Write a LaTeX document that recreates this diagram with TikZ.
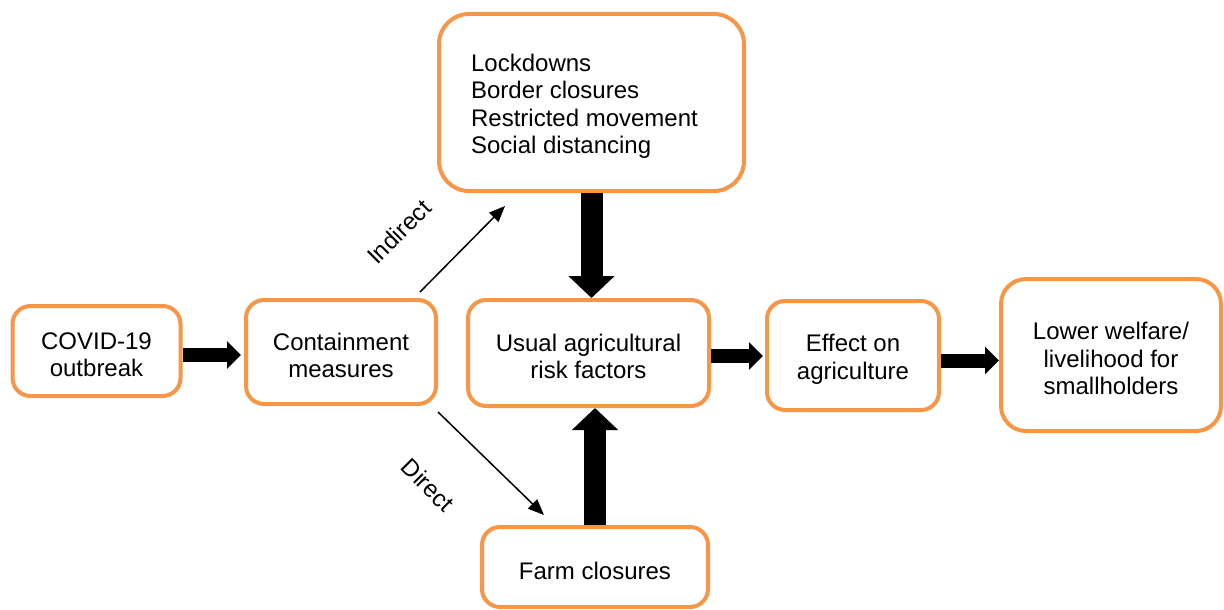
\documentclass[tikz,border=0pt]{standalone}
\usepackage{fontspec}
\setmainfont{Liberation Sans}
\usetikzlibrary{arrows.meta}
\definecolor{boxorange}{HTML}{F79646}
\newcommand\dnstrut{\rule{0pt}{24.5pt}}
\begin{document}
\begin{tikzpicture}[x=1pt,y=-1pt,
  txt/.style={font=\fontsize{24}{27.5}\selectfont},
  box/.style={txt, draw=boxorange, line width=4pt, rounded corners=18pt, align=center, inner sep=0pt, fill=white},
  fat/.style={line width=14pt, -{Triangle[width=27pt,length=14pt]}},
  fatv/.style={line width=22pt, -{Triangle[width=45pt,length=22pt]}},
  thinarrow/.style={line width=1.5pt, -{Triangle[width=13pt,length=16pt]}}]
\useasboundingbox (0,0) rectangle (1224,610);

\node[box, minimum width=168pt, minimum height=90pt] (covid) at (96.5,351) {\dnstrut COVID-19\\outbreak};
\node[box, minimum width=190pt, minimum height=104pt] (cont) at (341,352) {\dnstrut Containment\\measures};
\node[box, minimum width=305pt, minimum height=177pt, rounded corners=30pt, align=left] (top) at (591.5,102.5) {\dnstrut Lockdowns\\Border closures\\Restricted movement\rule{14pt}{0pt}\\Social distancing};
\node[box, minimum width=241pt, minimum height=106pt] (usual) at (588.5,353) {\dnstrut Usual agricultural\\risk factors};
\node[box, minimum width=172pt, minimum height=109pt] (effect) at (853,355.5) {\dnstrut Effect on\\agriculture};
\node[box, minimum width=220pt, minimum height=152pt, rounded corners=25pt] (lower) at (1111,355) {\dnstrut Lower welfare/\\livelihood for\\smallholders};
\node[box, minimum width=226pt, minimum height=80pt] (farm) at (595,567) {\dnstrut Farm closures};

\draw[fat, shorten >=3pt] ([yshift=-4pt]covid.east) -- ([yshift=-4pt]covid.east -| cont.west);
\draw[fat, shorten >=2pt] ([yshift=-3pt]usual.east) -- ([yshift=-3pt]usual.east -| effect.west);
\draw[fat] ([yshift=-5pt]effect.east) -- ([yshift=-5pt]effect.east -| lower.west);
\draw[fatv] (top.south) -- (top.south |- usual.north);
\draw[fatv] (farm.north) -- (farm.north |- usual.south);

\coordinate (i1) at (420,292);
\coordinate (i2) at (505,206);
\coordinate (d1) at (438,412);
\coordinate (d2) at (544,515);
\draw[thinarrow] (i1) -- (i2);
\draw[thinarrow] (d1) -- (d2);

\node[txt, rotate=45] (lind) at (399,232) {Indirect};
\node[txt, rotate=-45] (ldir) at (428,485) {Direct};
\end{tikzpicture}
\end{document}
